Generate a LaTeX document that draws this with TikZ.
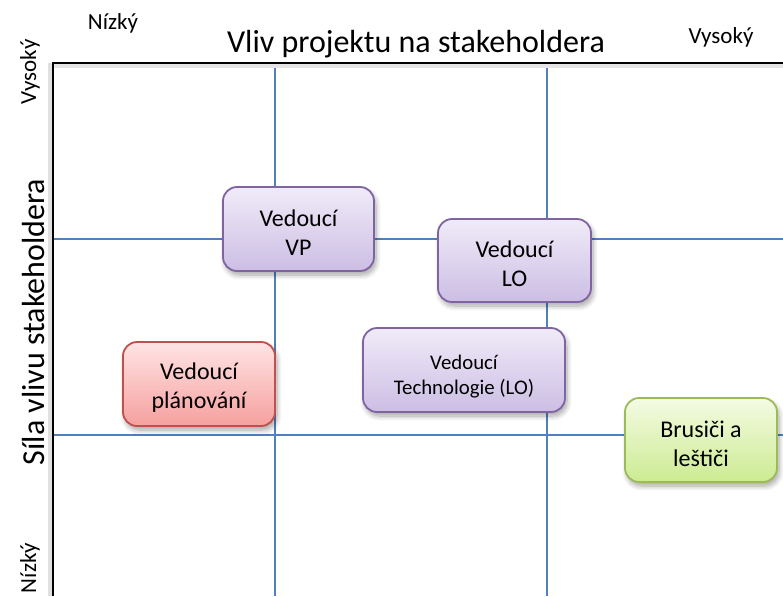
\documentclass[tikz,border=0pt]{standalone}
\usepackage{fontspec}
\setmainfont{Carlito}
\usetikzlibrary{shadows.blur}

\definecolor{gridblue}{RGB}{79,129,189}
\definecolor{purpleedge}{RGB}{128,100,162}
\definecolor{purpletop}{RGB}{240,235,248}
\definecolor{purplebot}{RGB}{204,190,228}
\definecolor{rededge}{RGB}{192,80,77}
\definecolor{redtop}{RGB}{255,228,228}
\definecolor{redbot}{RGB}{245,160,158}
\definecolor{greenedge}{RGB}{155,187,89}
\definecolor{greentop}{RGB}{244,251,228}
\definecolor{greenbot}{RGB}{204,235,145}

\tikzset{
  card/.style={rounded corners=7pt, line width=0.9pt, inner sep=0pt,
    blur shadow={shadow blur steps=8, shadow xshift=1pt, shadow yshift=-2pt,
                 shadow opacity=35, shadow blur radius=2.5pt}},
  purplecard/.style={card, draw=purpleedge, top color=purpletop, bottom color=purplebot},
  redcard/.style={card, draw=rededge, top color=redtop, bottom color=redbot},
  greencard/.style={card, draw=greenedge, top color=greentop, bottom color=greenbot},
  cardtext/.style={align=center, inner sep=0pt, yshift=-1.8pt,
    font=\fontsize{12}{14.5}\selectfont},
  smalltext/.style={cardtext, yshift=-1.4pt, font=\fontsize{10.4}{12.7}\selectfont},
  gridline/.style={draw=gridblue, line width=0.75pt},
  axislabel/.style={font=\fontsize{11.5}{13}\selectfont, inner sep=0pt},
  axistitle/.style={font=\fontsize{16}{18}\selectfont, inner sep=0pt}
}

\begin{document}
\begin{tikzpicture}[x=0.5pt, y=-0.5pt]
  \useasboundingbox (0,0) rectangle (783,596);

  % frame corner points
  \coordinate (tl) at (53,63);
  \coordinate (tr) at (783,63);
  \coordinate (bl) at (53,596);

  % grid lines of the matrix
  \coordinate (v1t) at (275,63);  \coordinate (v1b) at (275,596);
  \coordinate (v2t) at (547,63);  \coordinate (v2b) at (547,596);
  \coordinate (h1l) at (53,239);  \coordinate (h1r) at (783,239);
  \coordinate (h2l) at (53,435);  \coordinate (h2r) at (783,435);
  \draw[gridline] (v1t) -- (v1b);
  \draw[gridline] (v2t) -- (v2b);
  \draw[gridline] (h1l) -- (h1r);
  \draw[gridline] (h2l) -- (h2r);

  % soft shade along the axes
  \draw[black!12, line width=2pt] ([xshift=-1.5pt]tl) -- ([xshift=-1.5pt]bl);
  \draw[black!10, line width=2pt] ([yshift=-1.5pt]tl) -- ([yshift=-1.5pt]tr);

  % axes
  \draw[black, line width=1.1pt] (bl) -- (tl) -- (tr);

  % axis labels
  \node[axislabel] (xlow) at (113,23) {Nízký};
  \node[axislabel] (xhigh) at (721,37) {Vysoký};
  \node[axistitle] (xtitle) at (416,44) {Vliv projektu na stakeholdera};
  \node[axislabel, rotate=90] (yhigh) at (30,72) {Vysoký};
  \node[axislabel, rotate=90] (ylow) at (30,568) {Nízký};
  \node[axistitle, rotate=90] (ytitle) at (34,322) {Síla vlivu stakeholdera};

  % stakeholder cards
  \node[purplecard, minimum width=75.5pt, minimum height=42pt] (vp) at (298.5,229) {};
  \node[purplecard, minimum width=76.5pt, minimum height=41.5pt] (lo) at (514.5,260.5) {};
  \node[redcard, minimum width=76pt, minimum height=42pt] (plan) at (199,384) {};
  \node[purplecard, minimum width=101pt, minimum height=42pt] (tech) at (464,370) {};
  \node[greencard, minimum width=76pt, minimum height=42pt] (brus) at (701,440) {};

  % card captions
  \node[cardtext] (vptext) at (vp.center) {Vedoucí\\VP};
  \node[cardtext] (lotext) at (lo.center) {Vedoucí\\LO};
  \node[cardtext] (plantext) at (plan.center) {Vedoucí\\plánování};
  \node[smalltext] (techtext) at (tech.center) {Vedoucí\\Technologie (LO)};
  \node[cardtext] (brustext) at (brus.center) {Brusiči a\\leštiči};
\end{tikzpicture}
\end{document}
